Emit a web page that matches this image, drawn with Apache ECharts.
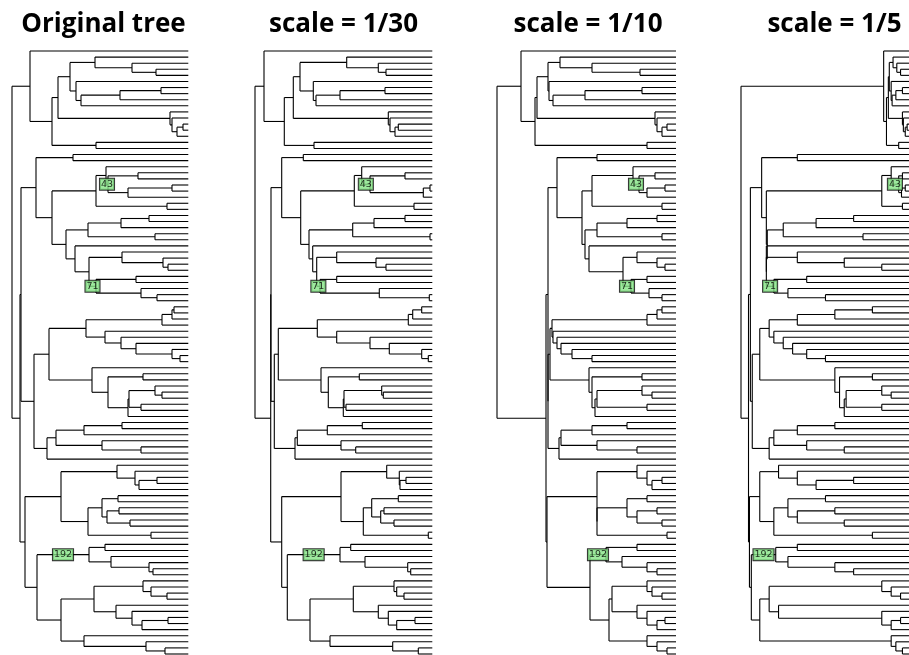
<!DOCTYPE html>
<html><head><meta charset="utf-8">
<script src="https://cdn.jsdelivr.net/npm/echarts@6/dist/echarts.min.js"></script>
<style>html,body{margin:0;padding:0;background:#fff}#c{width:909px;height:655px}</style>
</head><body><div id="c"></div>
<script>
// ---- Tree topology (leaves numbered top to bottom 0..99) ----
const cladeA = "(0,((((1,(2,(3,4))),(5,(((6,7),8),9))),(10,(11,((12,13),14)))),(15,16)))";
const cladeU = "((17,18),(((19,((20,21),((22,23),24))),(25,26)),((((27,28),29),(30,31)),(32,((33,(34,(35,36))),((37,38),(39,(40,41))))))))";
const cladeV = "((((((42,43),44),45),(46,(47,(48,(49,(50,51)))))),(52,((53,54),(((55,(56,57)),(58,59)),60)))),((((61,62),63),(64,(65,66))),67))";
const cladeT = "(((68,(69,((70,71),72))),(((73,74),((75,76),(77,78))),(79,80))),(((81,82),(83,(84,(85,86)))),(((87,(88,(89,90))),(91,(92,((93,94),95)))),(96,(97,(98,99))))))";

// ---- Titles ----
const titles = ["Original tree", "scale = 1/30", "scale = 1/10", "scale = 1/5"];

// ---- Internal node depths from the root (preorder), one array per tree ----
const depthOriginal = [0,18,40,46,58,83,120,144,64,69,108,149,158,160,165,171,84,
 8,9,24,61,40,84,94,96,126,116,160,155,54,76,109,137,143,63,77,110,151,156,84,124,129,145,
 22,37,74,150,160,162,93,109,124,160,168,80,96,131,116,117,143,150,129,35,44,72,110,90,129,
 13,49,105,123,127,145,76,90,106,95,107,118,139,25,77,93,99,137,141,49,82,131,139,155,104,120,130,156,72,134,153];
const depthScale30 = [0,9,29.3,38.3,45,91.7,123.3,131,58.3,61,85,130,133.3,135,140,143.3,59,
 15.7,16,26.7,48.3,45.7,99.3,106.7,115,150,168.3,175,159,54,97.7,119,150,175,57.7,61.7,81.7,121,131,65,81.7,124.3,174.3,
 19.3,23.3,62.3,153.3,157.7,166.7,81.7,115,134.3,166.7,173.3,66,73.3,104.3,88.3,89,126.7,128.3,91,40,42.3,72.3,107.3,86,100.7,
 26.7,86,131.7,144.3,145,151,108.3,116.7,143.3,125.7,129,139,173.3,32.3,85,95.7,110,152.7,155.7,55,98.3,139,141.7,149,123.3,133.3,141.7,160,75,137.7,163.3];
const depthScale10 = [0,24,38,40,51,63,95,143,52,56,88,145,158,160,165,170,150,
 49,51,60,100,85,95,136,142,158,150,168,165,88,100,130,160,165,92,126,140,160,168,134,150,152,165,
 51,53,55,150,160,165,56,60,64,75,95,92,95,145,98,100,145,155,150,62,64,95,130,100,140,
 50,100,140,150,155,165,100,130,150,140,160,165,170,93,109,140,125,150,160,112,115,150,155,165,140,150,160,168,150,160,170];
const depthScale5 = [0,152,155,157,158,162,166,170,160,161,165,172,172,173,175,177,168,
 8,10,22,60,27,150,160,168,172,171,175,172,28,45,80,120,130,27,27,60,110,150,35,70,50,90,
 12,20,30,60,100,140,35,45,55,70,90,100,105,140,110,112,150,160,150,30,35,60,100,70,110,
 9,20,40,60,80,120,35,50,90,60,100,110,140,11,37,60,50,100,120,20,30,150,160,170,40,150,160,170,160,165,172];
const tipDepth = [176.3, 177.3, 179, 179];

// ---- Edge labels: edge leading to internal node (preorder index) ----
const edgeLabelNodes = [24, 39, 82];
const edgeLabelTexts = ["43", "71", "192"];

// ---------- build ----------
function parseNewick(str){
  let pos = 0; const internals = [];
  function node(parent){
    if (str[pos] === '(') {
      pos++;
      const n = {children: [], idx: internals.length, parent: parent};
      internals.push(n);
      n.children.push(node(n));
      while (str[pos] === ',') { pos++; n.children.push(node(n)); }
      pos++;
      return n;
    }
    let s = '';
    while (/[0-9]/.test(str[pos])) s += str[pos++];
    return {leaf: +s, parent: parent};
  }
  const root = node(null);
  return {root, internals};
}
const newick = "(" + cladeA + ",((" + cladeU + "," + cladeV + ")," + cladeT + "))";
const tree = parseNewick(newick);
function setY(n){
  if (n.leaf !== undefined) { n.y = n.leaf; return n.y; }
  n.children.forEach(setY);
  n.y = (n.children[0].y + n.children[n.children.length-1].y) / 2;
  return n.y;
}
setY(tree.root);

const depthSets = [depthOriginal, depthScale30, depthScale10, depthScale5];
const rootX = [12, 255, 497, 741];
const titleX = [103.5, 343.5, 588, 834.5];

function segmentsFor(k){
  const D = depthSets[k], tip = tipDepth[k], segs = [];
  tree.internals.forEach(n => {
    const x = D[n.idx];
    segs.push([x, n.children[0].y, x, n.children[n.children.length-1].y]);
    n.children.forEach(c => {
      const cx = c.leaf !== undefined ? tip : D[c.idx];
      segs.push([x, c.y, cx, c.y]);
    });
  });
  return segs;
}
function labelsFor(k){
  const D = depthSets[k];
  return edgeLabelNodes.map((i, j) => {
    const n = tree.internals[i];
    return {name: edgeLabelTexts[j], value: [(D[n.parent.idx] + D[i]) / 2, n.y]};
  });
}

const grids = [], xAxes = [], yAxes = [], series = [], graphics = [];
for (let k = 0; k < 4; k++) {
  grids.push({left: rootX[k], top: 51, width: tipDepth[k], height: 603, containLabel: false});
  xAxes.push({type: 'value', gridIndex: k, min: 0, max: tipDepth[k], show: false});
  yAxes.push({type: 'value', gridIndex: k, min: 0, max: 99, inverse: true, show: false});
  series.push({
    type: 'custom', xAxisIndex: k, yAxisIndex: k, silent: true, clip: false,
    data: segmentsFor(k),
    encode: {x: [0, 2], y: [1, 3]},
    renderItem: function(params, api){
      const p1 = api.coord([api.value(0), api.value(1)]);
      const p2 = api.coord([api.value(2), api.value(3)]);
      return {type: 'line', shape: {x1: p1[0], y1: p1[1], x2: p2[0], y2: p2[1]},
              style: {stroke: '#000', lineWidth: 1.1}};
    }
  });
  series.push({
    type: 'scatter', xAxisIndex: k, yAxisIndex: k, silent: true, symbolSize: 0, z: 10,
    data: labelsFor(k),
    label: {show: true, position: 'inside', formatter: p => p.name,
      fontSize: 9.5, fontFamily: 'DejaVu Sans', color: '#000',
      backgroundColor: '#86e486', borderColor: '#000', borderWidth: 1, padding: [1, 1, 0, 1]}
  });
  graphics.push({type: 'text', x: titleX[k], y: 25,
    style: {text: titles[k], font: 'bold 26px "Open Sans"', fill: '#000', textAlign: 'center', textVerticalAlign: 'middle'}});
}

const chart = echarts.init(document.getElementById('c'), null, {renderer: 'canvas'});
chart.setOption({animation: false, grid: grids, xAxis: xAxes, yAxis: yAxes, series: series, graphic: graphics});
</script></body></html>
